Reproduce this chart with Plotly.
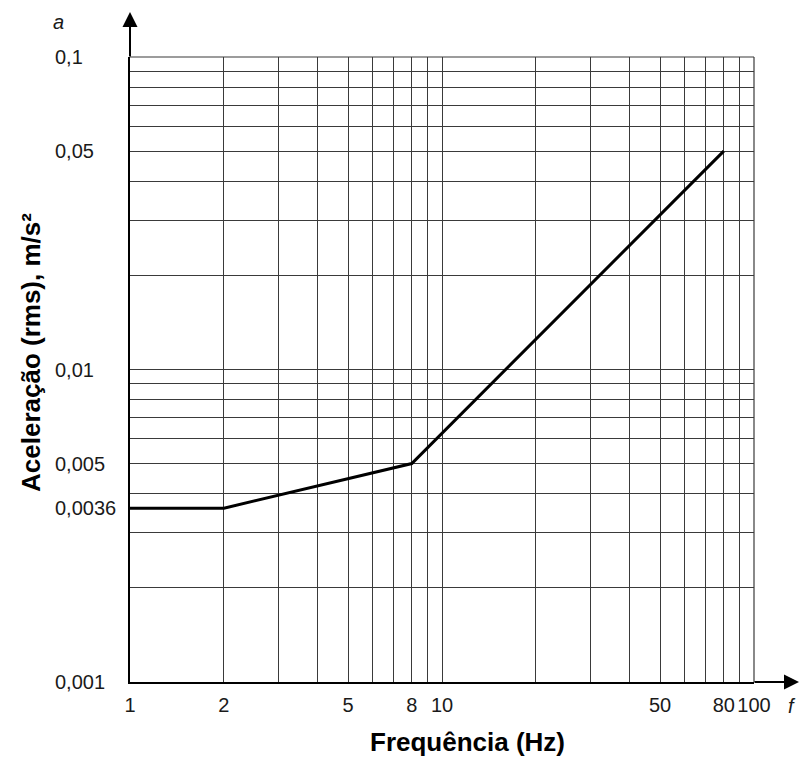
import math
import plotly.graph_objects as go

# Data: limit curve (frequency Hz, acceleration rms m/s²)
freq = [1, 2, 8, 80]
accel = [0.0036, 0.0036, 0.005, 0.05]

# Grid positions
x_grid = [1, 2, 3, 4, 5, 6, 7, 8, 9, 10, 20, 30, 40, 50, 60, 70, 80, 90, 100]
x_labels = {1: "1", 2: "2", 5: "5", 8: "8", 10: "10", 50: "50", 80: "80", 100: "100"}
y_grid = [0.001, 0.002, 0.003, 0.004, 0.005, 0.006, 0.007, 0.008, 0.009, 0.01,
          0.02, 0.03, 0.04, 0.05, 0.06, 0.07, 0.08, 0.09, 0.1]
y_tick_vals = [0.1, 0.05, 0.01, 0.005, 0.0036, 0.001]
y_tick_text = ["0,1", "0,05", "0,01", "0,005", "0,0036", "0,001"]

x_title = "Frequência (Hz)"
y_title = "Aceleração (rms), m/s²"

W, H = 800, 758
ML, MR, MT, MB = 130, 46, 57, 76
PW, PH = W - ML - MR, H - MT - MB

FONT = "Liberation Sans, Arial, sans-serif"
GRID = "#3a3a3a"

fig = go.Figure()
fig.add_trace(go.Scatter(x=freq, y=accel, mode="lines",
                         line=dict(color="black", width=3), hoverinfo="skip",
                         showlegend=False))

fig.update_layout(
    width=W, height=H,
    margin=dict(l=ML, r=MR, t=MT, b=MB, pad=0),
    paper_bgcolor="white", plot_bgcolor="white",
    font=dict(family=FONT, color="#1a1a1a", size=20),
    showlegend=False,
)
fig.update_xaxes(
    type="log", range=[0, 2],
    tickmode="array", tickvals=x_grid,
    ticktext=[x_labels.get(v, "") for v in x_grid],
    showgrid=True, gridcolor=GRID, gridwidth=1.2,
    showline=True, linecolor="black", linewidth=2,
    ticks="outside", ticklen=4, tickcolor="rgba(0,0,0,0)",
    tickfont=dict(size=20, family=FONT, color="#1a1a1a"),
    zeroline=False, fixedrange=True,
)
fig.update_yaxes(
    type="log", range=[-3, -1],
    tickmode="array", tickvals=y_grid, ticktext=["" for _ in y_grid],
    showgrid=True, gridcolor=GRID, gridwidth=1.2,
    showline=True, linecolor="black", linewidth=2,
    ticks="", zeroline=False, fixedrange=True,
)

# top and right frame lines (edge gridlines)
fig.add_shape(type="line", xref="paper", yref="paper", x0=0, x1=1, y0=1, y1=1,
              line=dict(color=GRID, width=1.2), layer="below")
fig.add_shape(type="line", xref="paper", yref="paper", x0=1, x1=1, y0=0, y1=1,
              line=dict(color=GRID, width=1.2), layer="below")

ann = []
# left-aligned y tick labels
for v, t in zip(y_tick_vals, y_tick_text):
    ann.append(dict(x=(53 - ML) / PW, xref="paper", y=math.log10(v), yref="y",
                    text=t, showarrow=False, xanchor="left", yanchor="middle",
                    font=dict(size=20, family=FONT, color="#1a1a1a")))
# axis titles
ann.append(dict(x=(467 - ML) / PW, xref="paper", y=-(742 - MT - PH) / PH, yref="paper",
                text="<b>" + x_title + "</b>", showarrow=False,
                xanchor="center", yanchor="middle",
                font=dict(size=26, family=FONT, color="black")))
ann.append(dict(x=(31 - ML) / PW, xref="paper", y=1 - (353 - MT) / PH, yref="paper",
                text="<b>" + y_title + "</b>", showarrow=False, textangle=-90,
                xanchor="center", yanchor="middle",
                font=dict(size=26, family=FONT, color="black")))
# axis symbols
ann.append(dict(x=(58 - ML) / PW, xref="paper", y=1 + (MT - 22) / PH, yref="paper",
                text="<i>a</i>", showarrow=False, xanchor="center", yanchor="middle",
                font=dict(size=20, family=FONT, color="#1a1a1a")))
ann.append(dict(x=(792 - ML) / PW, xref="paper", y=-(706 - MT - PH) / PH, yref="paper",
                text="<i>f</i>", showarrow=False, xanchor="center", yanchor="middle",
                font=dict(size=20, family=FONT, color="#1a1a1a")))
# arrows
ann.append(dict(x=0, xref="paper", y=1 + (MT - 12) / PH, yref="paper",
                ax=0, ay=MT - 12 + 1, text="", showarrow=True,
                arrowhead=2, arrowsize=1.5, arrowwidth=2, arrowcolor="black"))
ann.append(dict(x=1 + (W - 1 - ML - PW) / PW, xref="paper", y=0, yref="paper",
                ax=-(W - 1 - ML - PW) - 1, ay=0, text="", showarrow=True,
                arrowhead=2, arrowsize=1.5, arrowwidth=2, arrowcolor="black"))
fig.update_layout(annotations=ann)

fig.write_html("out.html")
